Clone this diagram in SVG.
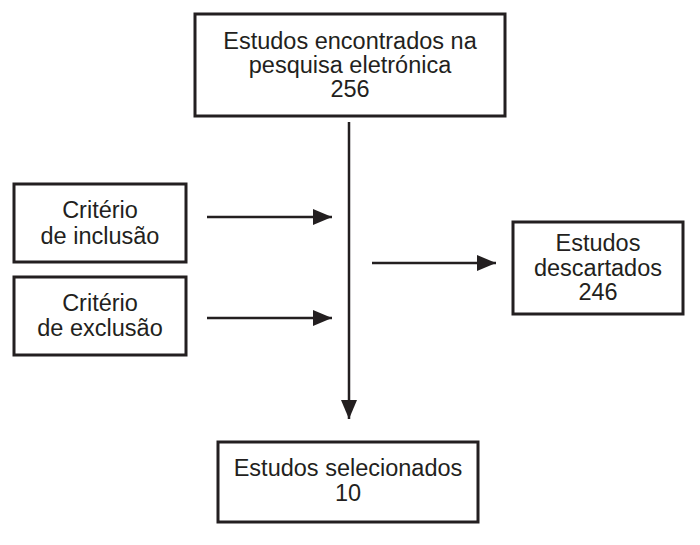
<svg xmlns="http://www.w3.org/2000/svg" width="700" height="545" viewBox="0 0 700 545">
<defs>
<style>
.box{fill:#fff;stroke:#231f20;stroke-width:3}
.t{font-family:"Liberation Sans",Arial,sans-serif;font-size:23.5px;fill:#231f20;text-anchor:middle}
.c{stroke:#231f20;stroke-width:2.5;fill:none}
</style>
<marker id="ah" markerUnits="userSpaceOnUse" markerWidth="20" markerHeight="16" refX="19" refY="8" orient="auto">
<path d="M0,0 L19,8 L0,16 Z" fill="#231f20"/>
</marker>
</defs>
<rect width="700" height="545" fill="#fff"/>
<g id="connectors">
<line class="c" x1="349" y1="122" x2="349" y2="419" marker-end="url(#ah)"/>
<line class="c" x1="207" y1="217" x2="332" y2="217" marker-end="url(#ah)"/>
<line class="c" x1="207" y1="318" x2="332" y2="318" marker-end="url(#ah)"/>
<line class="c" x1="372" y1="263" x2="496" y2="263" marker-end="url(#ah)"/>
</g>
<g id="n-encontrados">
<rect class="box" x="195" y="14" width="310" height="102"/>
<text class="t" x="350" y="49">Estudos encontrados na</text>
<text class="t" x="350" y="73">pesquisa eletrónica</text>
<text class="t" x="350" y="97">256</text>
</g>
<g id="n-inclusao">
<rect class="box" x="14" y="184" width="172" height="78"/>
<text class="t" x="100" y="218">Critério</text>
<text class="t" x="100" y="244">de inclusão</text>
</g>
<g id="n-exclusao">
<rect class="box" x="14" y="277" width="172" height="78"/>
<text class="t" x="100" y="311">Critério</text>
<text class="t" x="100" y="336">de exclusão</text>
</g>
<g id="n-descartados">
<rect class="box" x="513" y="222" width="170" height="92"/>
<text class="t" x="598" y="251">Estudos</text>
<text class="t" x="598" y="276">descartados</text>
<text class="t" x="598" y="300">246</text>
</g>
<g id="n-selecionados">
<rect class="box" x="218" y="442" width="260" height="80"/>
<text class="t" x="348" y="476">Estudos selecionados</text>
<text class="t" x="348" y="501">10</text>
</g>
</svg>
